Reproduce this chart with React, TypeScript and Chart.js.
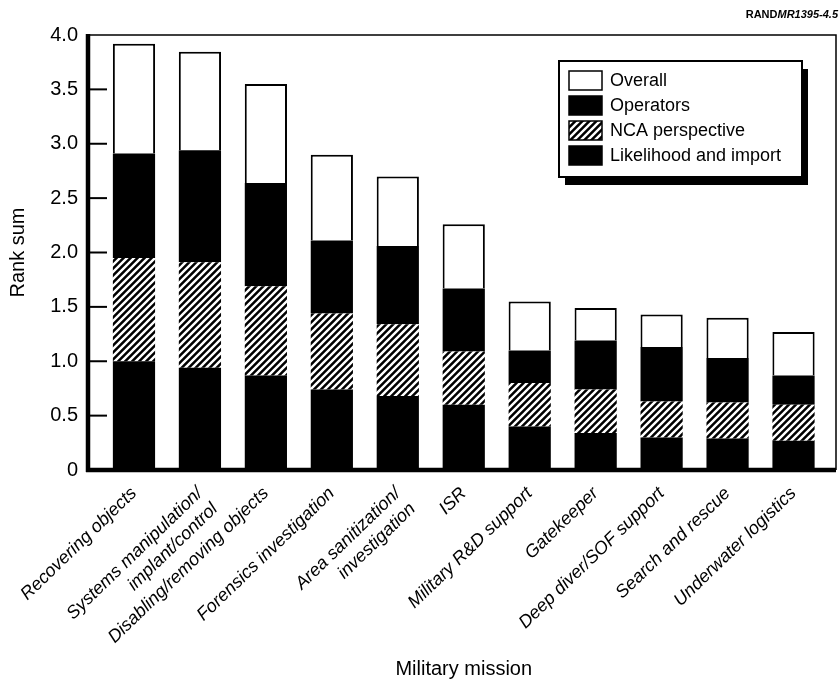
import React, { useEffect, useRef } from "react";
import { Chart, registerables } from "chart.js";

Chart.register(...registerables);

const FONT = "'Liberation Sans', Arial, Helvetica, sans-serif";

const categories: (string | string[])[] = [
  "Recovering objects",
  ["Systems manipulation/", "implant/control"],
  "Disabling/removing objects",
  "Forensics investigation",
  ["Area sanitization/", "investigation"],
  "ISR",
  "Military R&D support",
  "Gatekeeper",
  "Deep diver/SOF support",
  "Search and rescue",
  "Underwater logistics",
];

const likelihood = [1.0, 0.94, 0.87, 0.74, 0.68, 0.6, 0.4, 0.34, 0.3, 0.29, 0.27];
const ncaPerspective = [0.95, 0.97, 0.82, 0.7, 0.66, 0.49, 0.4, 0.4, 0.33, 0.33, 0.33];
const operators = [0.96, 1.03, 0.95, 0.67, 0.72, 0.58, 0.3, 0.45, 0.5, 0.41, 0.27];
const overall = [1.01, 0.905, 0.91, 0.79, 0.64, 0.59, 0.45, 0.3, 0.3, 0.37, 0.4];

const yTickValues = [0, 0.5, 1, 1.5, 2, 2.5, 3, 3.5, 4];
const yTitle = "Rank sum";
const xTitle = "Military mission";
const sourceTag = "RAND";
const sourceId = "MR1395-4.5";

function makeHatch(ctx: CanvasRenderingContext2D): CanvasPattern | string {
  const n = 7;
  const pc = document.createElement("canvas");
  pc.width = n;
  pc.height = n;
  const g = pc.getContext("2d");
  if (!g) return "#000";
  g.fillStyle = "#000";
  g.fillRect(0, 0, n, n);
  g.strokeStyle = "#fff";
  g.lineWidth = 2.4;
  g.beginPath();
  g.moveTo(-1, n + 1);
  g.lineTo(n + 1, -1);
  g.moveTo(-1, 1);
  g.lineTo(1, -1);
  g.moveTo(n - 1, n + 1);
  g.lineTo(n + 1, n - 1);
  g.stroke();
  return ctx.createPattern(pc, "repeat") || "#000";
}

const framePlugin = {
  id: "frameAndLegend",
  afterDraw(chart: any) {
    const { ctx, chartArea } = chart;
    const y = chart.scales.y;
    const top = y.getPixelForValue(y.max);
    const bottom = y.getPixelForValue(y.min);
    const axisX = chartArea.left - 13;
    const rightX = chartArea.right + 9.5;
    ctx.save();
    ctx.strokeStyle = "#000";
    ctx.lineWidth = 1.5;
    ctx.beginPath();
    ctx.moveTo(axisX, top);
    ctx.lineTo(rightX, top);
    ctx.lineTo(rightX, bottom);
    ctx.stroke();
    ctx.lineWidth = 4.5;
    ctx.beginPath();
    ctx.moveTo(axisX, top - 1);
    ctx.lineTo(axisX, bottom + 2);
    ctx.stroke();
    ctx.beginPath();
    ctx.moveTo(axisX - 2, bottom);
    ctx.lineTo(rightX, bottom);
    ctx.stroke();
    ctx.lineWidth = 2;
    y.ticks.forEach((t: any) => {
      if (t.value <= y.min || t.value >= y.max) return;
      const py = y.getPixelForValue(t.value);
      ctx.beginPath();
      ctx.moveTo(axisX, py);
      ctx.lineTo(axisX + 19, py);
      ctx.stroke();
    });

    const bx = 559, by = 61, bw = 243, bh = 116;
    ctx.fillStyle = "#000";
    ctx.fillRect(bx + 6, by + 8, bw, bh);
    ctx.fillStyle = "#fff";
    ctx.fillRect(bx, by, bw, bh);
    ctx.lineWidth = 2;
    ctx.strokeRect(bx, by, bw, bh);
    const items = [...chart.data.datasets].reverse();
    items.forEach((ds: any, i: number) => {
      const sy = 71 + i * 25;
      const sx = 569;
      ctx.fillStyle = ds.backgroundColor;
      ctx.fillRect(sx, sy, 33, 19);
      ctx.lineWidth = 1.5;
      ctx.strokeStyle = "#000";
      ctx.strokeRect(sx, sy, 33, 19);
      ctx.fillStyle = "#000";
      ctx.font = `18px ${FONT}`;
      ctx.textAlign = "left";
      ctx.textBaseline = "middle";
      ctx.fillText(ds.label, 610, sy + 10);
    });

    ctx.textBaseline = "middle";
    ctx.textAlign = "right";
    ctx.font = `italic bold 11px ${FONT}`;
    const idW = ctx.measureText(sourceId).width;
    ctx.fillText(sourceId, 838, 15);
    ctx.font = `bold 11px ${FONT}`;
    ctx.fillText(sourceTag, 838 - idW, 15);
    ctx.restore();
  },
};

export default function App() {
  const ref = useRef<HTMLCanvasElement | null>(null);
  useEffect(() => {
    const canvas = ref.current;
    if (!canvas) return;
    const ctx = canvas.getContext("2d");
    if (!ctx) return;
    const hatch = makeHatch(ctx);
    Chart.defaults.font.family = FONT;
    const chart = new Chart(canvas, {
      type: "bar",
      data: {
        labels: categories as any,
        datasets: [
          { label: "Likelihood and import", data: likelihood, backgroundColor: "#000", borderWidth: 0 },
          { label: "NCA perspective", data: ncaPerspective, backgroundColor: hatch as any, borderWidth: 0 },
          { label: "Operators", data: operators, backgroundColor: "#000", borderWidth: 0 },
          { label: "Overall", data: overall, backgroundColor: "#fff", borderColor: "#000", borderWidth: 2 },
        ],
      },
      options: {
        animation: false,
        responsive: false,
        maintainAspectRatio: false,
        layout: { padding: { top: 24, right: 13.5, left: 0, bottom: 0 } },
        plugins: { legend: { display: false }, tooltip: { enabled: false } },
        datasets: { bar: { categoryPercentage: 1, barPercentage: 0.64 } },
        scales: {
          x: {
            stacked: true,
            grid: { display: false, drawTicks: false },
            border: { display: false },
            ticks: {
              autoSkip: false,
              minRotation: 44,
              maxRotation: 44,
              padding: 13,
              color: "#000",
              font: { size: 18, style: "italic", family: FONT },
            },
            title: {
              display: true,
              text: xTitle,
              color: "#000",
              font: { size: 20, family: FONT },
              padding: { top: 0, bottom: 2 },
            },
            afterFit: (s: any) => {
              s.height = 213;
            },
          },
          y: {
            stacked: true,
            min: 0,
            max: 4,
            afterBuildTicks: (s: any) => {
              s.ticks = yTickValues.map((v) => ({ value: v }));
            },
            grid: { display: false, drawTicks: false },
            border: { display: false },
            ticks: {
              padding: 23,
              color: "#000",
              font: { size: 20, family: FONT },
              callback: (v: any) => (Number(v) === 0 ? "0" : Number(v).toFixed(1)),
            },
            title: {
              display: true,
              text: yTitle,
              color: "#000",
              font: { size: 20, family: FONT },
              padding: { top: 6, bottom: 0 },
            },
            afterFit: (s: any) => {
              s.width = 101;
            },
          },
        },
      },
      plugins: [framePlugin],
    });
    return () => chart.destroy();
  }, []);
  return (
    <div style={{ position: "fixed", left: 0, top: 0, width: 840, height: 683, background: "#fff" }}>
      <canvas ref={ref} width={840} height={683} style={{ display: "block", width: 840, height: 683 }} />
    </div>
  );
}
